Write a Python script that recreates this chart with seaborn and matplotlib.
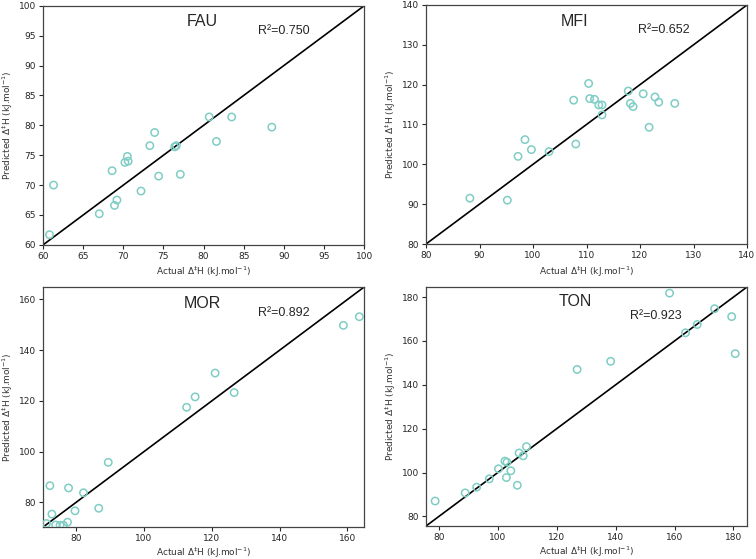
import numpy as np
import pandas as pd
import matplotlib
matplotlib.use("Agg")
import matplotlib.pyplot as plt
import seaborn as sns

# =============================================================================
# Data (actual vs predicted activation enthalpy)
# =============================================================================
fau_actual = [60.8, 61.3, 67.0, 68.6, 68.9, 69.2, 70.2, 70.5, 70.6, 72.2,
              73.3, 73.9, 74.4, 76.4, 76.6, 77.1, 80.7, 81.6, 83.5, 88.5]
fau_pred = [61.7, 70.0, 65.2, 72.4, 66.6, 67.5, 73.8, 74.8, 74.0, 69.0,
            76.6, 78.8, 71.5, 76.4, 76.6, 71.8, 81.4, 77.3, 81.4, 79.7]

mfi_actual = [88.2, 95.2, 97.2, 98.5, 99.7, 103.0, 107.6, 108.0, 110.4, 110.6, 111.5,
              112.3, 112.9, 112.9, 117.8, 118.2, 118.7, 120.6, 121.7, 122.8, 123.5, 126.5]
mfi_pred = [91.5, 91.0, 102.0, 106.2, 103.7, 103.2, 116.1, 105.1, 120.3, 116.5, 116.3,
            114.9, 114.9, 112.4, 118.4, 115.3, 114.5, 117.7, 109.3, 116.9, 115.6, 115.3]

mor_actual = [71.3, 72.3, 72.9, 74.0, 75.3, 76.3, 77.5, 77.8, 79.7, 82.2, 86.7,
              89.5, 112.6, 115.1, 121.0, 126.6, 158.8, 163.5]
mor_pred = [71.7, 86.6, 75.4, 71.1, 71.0, 71.0, 72.2, 85.7, 76.7, 83.8, 77.7,
            95.8, 117.5, 121.6, 131.0, 123.3, 149.8, 153.2]

ton_actual = [78.7, 88.9, 92.8, 97.1, 100.2, 102.4, 103.1, 102.9, 104.4, 106.6, 107.2,
              108.6, 109.7, 126.9, 138.3, 158.3, 163.7, 167.7, 173.6, 179.4, 180.6]
ton_pred = [87.0, 90.7, 93.3, 97.1, 101.7, 105.2, 104.7, 97.7, 100.8, 94.2, 108.9,
            107.6, 111.8, 147.0, 150.7, 181.8, 163.7, 167.5, 174.7, 171.1, 154.2]

frameworks = ['FAU', 'MFI', 'MOR', 'TON']
r2_values = [0.750, 0.652, 0.892, 0.923]
axis_limits = [(60, 100), (80, 140), (70.3, 164.9), (75.6, 184.6)]
tick_steps = [5, 10, 20, 20]

actual_sets = [fau_actual, mfi_actual, mor_actual, ton_actual]
pred_sets = [fau_pred, mfi_pred, mor_pred, ton_pred]

# =============================================================================
# Plot
# =============================================================================
sns.set_style("ticks")
plt.rcParams['font.family'] = ['DejaVu Sans']

fig = plt.figure(figsize=(7.56, 5.59), dpi=100)
positions = [
    [0.057, 0.562, 0.4246, 0.4276],
    [0.5635, 0.5635, 0.4246, 0.4276],
    [0.057, 0.0572, 0.4246, 0.4293],
    [0.5635, 0.059, 0.4246, 0.4276],
]
name_pos = [(0.495, 0.935), (0.464, 0.93), (0.495, 0.933), (0.464, 0.94)]
r2_pos = [(0.67, 0.895), (0.66, 0.895), (0.67, 0.89), (0.635, 0.88)]

marker_color = '#7fcdc4'

for k in range(4):
    ax = fig.add_axes(positions[k])
    df = pd.DataFrame({'actual': actual_sets[k], 'predicted': pred_sets[k]})
    lo, hi = axis_limits[k]

    # parity line
    ax.plot([lo, hi], [lo, hi], color='black', lw=1.2, zorder=1)
    sns.scatterplot(data=df, x='actual', y='predicted', ax=ax, s=28,
                    facecolors='none', edgecolor=marker_color, linewidth=1.1,
                    zorder=3, clip_on=True)

    ax.set_xlim(lo, hi)
    ax.set_ylim(lo, hi)
    step = tick_steps[k]
    start = np.ceil(lo / step) * step
    ticks = np.arange(start, hi + 0.01, step)
    ax.set_xticks(ticks)
    ax.set_yticks(ticks)
    ax.set_xticklabels([f"{t:.0f}" for t in ticks])
    ax.set_yticklabels([f"{t:.0f}" for t in ticks])
    ax.tick_params(axis='both', labelsize=6.5, length=3, width=0.8, pad=2)

    xpad = 3 if k < 2 else 2
    ax.set_xlabel(r'Actual $\Delta^{\ddag}$H (kJ.mol$^{-1}$)', fontsize=6.5, color='#333333', labelpad=xpad)
    ax.set_ylabel(r'Predicted $\Delta^{\ddag}$H (kJ.mol$^{-1}$)', fontsize=6.5, color='#333333', labelpad=3)

    for spine in ax.spines.values():
        spine.set_visible(True)
        spine.set_color('#444444')
        spine.set_linewidth(0.9)

    ax.text(name_pos[k][0], name_pos[k][1], frameworks[k], transform=ax.transAxes,
            ha='center', va='center', fontsize=11.5, family='Liberation Sans')
    ax.text(r2_pos[k][0], r2_pos[k][1], f"R\u00b2={r2_values[k]:.3f}", transform=ax.transAxes,
            ha='left', va='center', fontsize=9, family='Liberation Sans')

fig.savefig('out.png', dpi=100)
plt.close(fig)
